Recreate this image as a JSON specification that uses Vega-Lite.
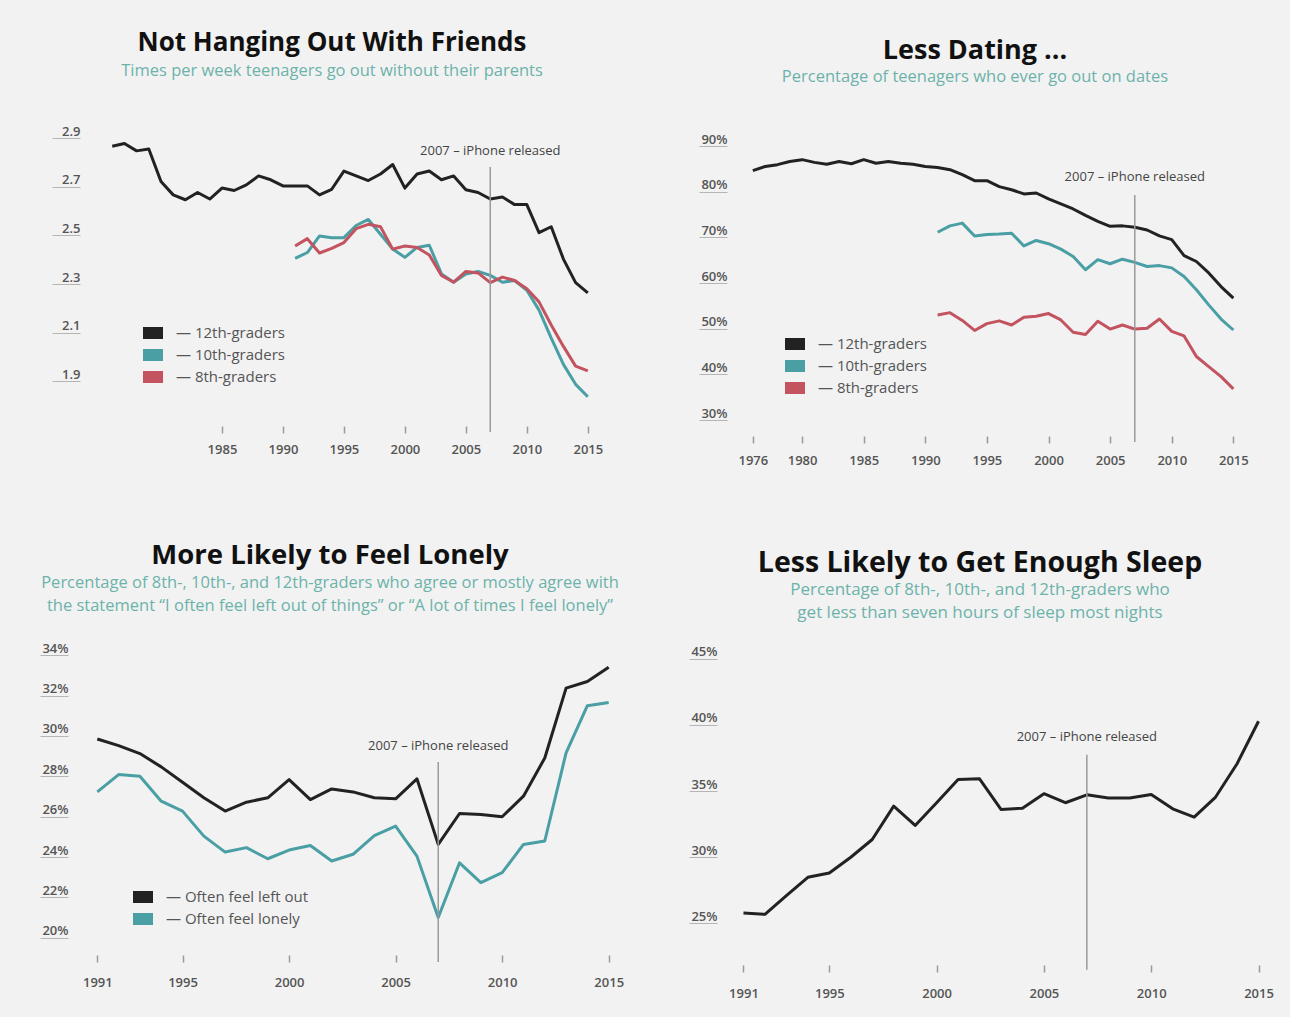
{
  "$schema": "https://vega.github.io/schema/vega-lite/v6.json",
  "background": "#f2f2f2",
  "padding": {"left": 39, "top": 29, "right": 10, "bottom": 17},
  "bounds": "flush",
  "columns": 2,
  "spacing": {"row": 203, "column": 92},
  "resolve": {"scale": {"x": "independent", "y": "independent", "color": "independent"}, "legend": {"color": "independent"}},
  "datasets": {
    "friends": [
      {"year":1976,"group":"12th-graders","value":2.838},{"year":1977,"group":"12th-graders","value":2.849},{"year":1978,"group":"12th-graders","value":2.819},{"year":1979,"group":"12th-graders","value":2.827},{"year":1980,"group":"12th-graders","value":2.693},{"year":1981,"group":"12th-graders","value":2.638},{"year":1982,"group":"12th-graders","value":2.618},{"year":1983,"group":"12th-graders","value":2.648},{"year":1984,"group":"12th-graders","value":2.621},{"year":1985,"group":"12th-graders","value":2.666},{"year":1986,"group":"12th-graders","value":2.656},{"year":1987,"group":"12th-graders","value":2.679},{"year":1988,"group":"12th-graders","value":2.716},{"year":1989,"group":"12th-graders","value":2.70},{"year":1990,"group":"12th-graders","value":2.675},{"year":1991,"group":"12th-graders","value":2.675},{"year":1992,"group":"12th-graders","value":2.675},{"year":1993,"group":"12th-graders","value":2.638},{"year":1994,"group":"12th-graders","value":2.661},{"year":1995,"group":"12th-graders","value":2.736},{"year":1996,"group":"12th-graders","value":2.716},{"year":1997,"group":"12th-graders","value":2.697},{"year":1998,"group":"12th-graders","value":2.724},{"year":1999,"group":"12th-graders","value":2.763},{"year":2000,"group":"12th-graders","value":2.666},{"year":2001,"group":"12th-graders","value":2.724},{"year":2002,"group":"12th-graders","value":2.736},{"year":2003,"group":"12th-graders","value":2.70},{"year":2004,"group":"12th-graders","value":2.716},{"year":2005,"group":"12th-graders","value":2.659},{"year":2006,"group":"12th-graders","value":2.648},{"year":2007,"group":"12th-graders","value":2.621},{"year":2008,"group":"12th-graders","value":2.629},{"year":2009,"group":"12th-graders","value":2.598},{"year":2010,"group":"12th-graders","value":2.598},{"year":2011,"group":"12th-graders","value":2.483},{"year":2012,"group":"12th-graders","value":2.507},{"year":2013,"group":"12th-graders","value":2.374},{"year":2014,"group":"12th-graders","value":2.277},{"year":2015,"group":"12th-graders","value":2.235},
      {"year":1991,"group":"10th-graders","value":2.377},{"year":1992,"group":"10th-graders","value":2.401},{"year":1993,"group":"10th-graders","value":2.469},{"year":1994,"group":"10th-graders","value":2.462},{"year":1995,"group":"10th-graders","value":2.462},{"year":1996,"group":"10th-graders","value":2.512},{"year":1997,"group":"10th-graders","value":2.537},{"year":1998,"group":"10th-graders","value":2.476},{"year":1999,"group":"10th-graders","value":2.415},{"year":2000,"group":"10th-graders","value":2.381},{"year":2001,"group":"10th-graders","value":2.422},{"year":2002,"group":"10th-graders","value":2.431},{"year":2003,"group":"10th-graders","value":2.313},{"year":2004,"group":"10th-graders","value":2.279},{"year":2005,"group":"10th-graders","value":2.313},{"year":2006,"group":"10th-graders","value":2.323},{"year":2007,"group":"10th-graders","value":2.307},{"year":2008,"group":"10th-graders","value":2.279},{"year":2009,"group":"10th-graders","value":2.286},{"year":2010,"group":"10th-graders","value":2.246},{"year":2011,"group":"10th-graders","value":2.164},{"year":2012,"group":"10th-graders","value":2.049},{"year":2013,"group":"10th-graders","value":1.941},{"year":2014,"group":"10th-graders","value":1.859},{"year":2015,"group":"10th-graders","value":1.808},
      {"year":1991,"group":"8th-graders","value":2.428},{"year":1992,"group":"8th-graders","value":2.458},{"year":1993,"group":"8th-graders","value":2.399},{"year":1994,"group":"8th-graders","value":2.418},{"year":1995,"group":"8th-graders","value":2.442},{"year":1996,"group":"8th-graders","value":2.499},{"year":1997,"group":"8th-graders","value":2.517},{"year":1998,"group":"8th-graders","value":2.507},{"year":1999,"group":"8th-graders","value":2.415},{"year":2000,"group":"8th-graders","value":2.428},{"year":2001,"group":"8th-graders","value":2.422},{"year":2002,"group":"8th-graders","value":2.391},{"year":2003,"group":"8th-graders","value":2.307},{"year":2004,"group":"8th-graders","value":2.279},{"year":2005,"group":"8th-graders","value":2.323},{"year":2006,"group":"8th-graders","value":2.317},{"year":2007,"group":"8th-graders","value":2.277},{"year":2008,"group":"8th-graders","value":2.30},{"year":2009,"group":"8th-graders","value":2.286},{"year":2010,"group":"8th-graders","value":2.252},{"year":2011,"group":"8th-graders","value":2.198},{"year":2012,"group":"8th-graders","value":2.103},{"year":2013,"group":"8th-graders","value":2.015},{"year":2014,"group":"8th-graders","value":1.934},{"year":2015,"group":"8th-graders","value":1.914}
    ],
    "dating": [
      {"year":1976,"group":"12th-graders","value":83.1},{"year":1977,"group":"12th-graders","value":84.0},{"year":1978,"group":"12th-graders","value":84.4},{"year":1979,"group":"12th-graders","value":85.1},{"year":1980,"group":"12th-graders","value":85.5},{"year":1981,"group":"12th-graders","value":84.9},{"year":1982,"group":"12th-graders","value":84.5},{"year":1983,"group":"12th-graders","value":85.1},{"year":1984,"group":"12th-graders","value":84.6},{"year":1985,"group":"12th-graders","value":85.5},{"year":1986,"group":"12th-graders","value":84.7},{"year":1987,"group":"12th-graders","value":85.1},{"year":1988,"group":"12th-graders","value":84.7},{"year":1989,"group":"12th-graders","value":84.5},{"year":1990,"group":"12th-graders","value":84.0},{"year":1991,"group":"12th-graders","value":83.8},{"year":1992,"group":"12th-graders","value":83.3},{"year":1993,"group":"12th-graders","value":82.2},{"year":1994,"group":"12th-graders","value":80.9},{"year":1995,"group":"12th-graders","value":80.9},{"year":1996,"group":"12th-graders","value":79.6},{"year":1997,"group":"12th-graders","value":78.9},{"year":1998,"group":"12th-graders","value":78.0},{"year":1999,"group":"12th-graders","value":78.2},{"year":2000,"group":"12th-graders","value":76.9},{"year":2001,"group":"12th-graders","value":75.8},{"year":2002,"group":"12th-graders","value":74.7},{"year":2003,"group":"12th-graders","value":73.3},{"year":2004,"group":"12th-graders","value":72.0},{"year":2005,"group":"12th-graders","value":70.9},{"year":2006,"group":"12th-graders","value":71.0},{"year":2007,"group":"12th-graders","value":70.7},{"year":2008,"group":"12th-graders","value":70.1},{"year":2009,"group":"12th-graders","value":68.8},{"year":2010,"group":"12th-graders","value":68.0},{"year":2011,"group":"12th-graders","value":64.5},{"year":2012,"group":"12th-graders","value":63.2},{"year":2013,"group":"12th-graders","value":60.7},{"year":2014,"group":"12th-graders","value":57.7},{"year":2015,"group":"12th-graders","value":55.2},
      {"year":1991,"group":"10th-graders","value":69.6},{"year":1992,"group":"10th-graders","value":71.0},{"year":1993,"group":"10th-graders","value":71.6},{"year":1994,"group":"10th-graders","value":68.8},{"year":1995,"group":"10th-graders","value":69.1},{"year":1996,"group":"10th-graders","value":69.2},{"year":1997,"group":"10th-graders","value":69.4},{"year":1998,"group":"10th-graders","value":66.6},{"year":1999,"group":"10th-graders","value":67.8},{"year":2000,"group":"10th-graders","value":67.1},{"year":2001,"group":"10th-graders","value":65.9},{"year":2002,"group":"10th-graders","value":64.3},{"year":2003,"group":"10th-graders","value":61.4},{"year":2004,"group":"10th-graders","value":63.6},{"year":2005,"group":"10th-graders","value":62.7},{"year":2006,"group":"10th-graders","value":63.7},{"year":2007,"group":"10th-graders","value":63.0},{"year":2008,"group":"10th-graders","value":62.1},{"year":2009,"group":"10th-graders","value":62.3},{"year":2010,"group":"10th-graders","value":61.8},{"year":2011,"group":"10th-graders","value":59.9},{"year":2012,"group":"10th-graders","value":57.0},{"year":2013,"group":"10th-graders","value":53.7},{"year":2014,"group":"10th-graders","value":50.6},{"year":2015,"group":"10th-graders","value":48.2},
      {"year":1991,"group":"8th-graders","value":51.5},{"year":1992,"group":"8th-graders","value":52.0},{"year":1993,"group":"8th-graders","value":50.3},{"year":1994,"group":"8th-graders","value":48.1},{"year":1995,"group":"8th-graders","value":49.6},{"year":1996,"group":"8th-graders","value":50.2},{"year":1997,"group":"8th-graders","value":49.3},{"year":1998,"group":"8th-graders","value":51.0},{"year":1999,"group":"8th-graders","value":51.2},{"year":2000,"group":"8th-graders","value":51.8},{"year":2001,"group":"8th-graders","value":50.4},{"year":2002,"group":"8th-graders","value":47.7},{"year":2003,"group":"8th-graders","value":47.2},{"year":2004,"group":"8th-graders","value":50.1},{"year":2005,"group":"8th-graders","value":48.4},{"year":2006,"group":"8th-graders","value":49.3},{"year":2007,"group":"8th-graders","value":48.4},{"year":2008,"group":"8th-graders","value":48.6},{"year":2009,"group":"8th-graders","value":50.6},{"year":2010,"group":"8th-graders","value":47.9},{"year":2011,"group":"8th-graders","value":46.9},{"year":2012,"group":"8th-graders","value":42.4},{"year":2013,"group":"8th-graders","value":40.2},{"year":2014,"group":"8th-graders","value":38.0},{"year":2015,"group":"8th-graders","value":35.3}
    ],
    "lonely": [
      {"year":1991,"group":"Often feel left out","value":29.5},{"year":1992,"group":"Often feel left out","value":29.17},{"year":1993,"group":"Often feel left out","value":28.78},{"year":1994,"group":"Often feel left out","value":28.12},{"year":1995,"group":"Often feel left out","value":27.36},{"year":1996,"group":"Often feel left out","value":26.59},{"year":1997,"group":"Often feel left out","value":25.93},{"year":1998,"group":"Often feel left out","value":26.37},{"year":1999,"group":"Often feel left out","value":26.59},{"year":2000,"group":"Often feel left out","value":27.49},{"year":2001,"group":"Often feel left out","value":26.5},{"year":2002,"group":"Often feel left out","value":27.03},{"year":2003,"group":"Often feel left out","value":26.88},{"year":2004,"group":"Often feel left out","value":26.59},{"year":2005,"group":"Often feel left out","value":26.54},{"year":2006,"group":"Often feel left out","value":27.53},{"year":2007,"group":"Often feel left out","value":24.28},{"year":2008,"group":"Often feel left out","value":25.81},{"year":2009,"group":"Often feel left out","value":25.76},{"year":2010,"group":"Often feel left out","value":25.65},{"year":2011,"group":"Often feel left out","value":26.67},{"year":2012,"group":"Often feel left out","value":28.56},{"year":2013,"group":"Often feel left out","value":32.02},{"year":2014,"group":"Often feel left out","value":32.35},{"year":2015,"group":"Often feel left out","value":33.06},
      {"year":1991,"group":"Often feel lonely","value":26.88},{"year":1992,"group":"Often feel lonely","value":27.74},{"year":1993,"group":"Often feel lonely","value":27.66},{"year":1994,"group":"Often feel lonely","value":26.42},{"year":1995,"group":"Often feel lonely","value":25.93},{"year":1996,"group":"Often feel lonely","value":24.69},{"year":1997,"group":"Often feel lonely","value":23.9},{"year":1998,"group":"Often feel lonely","value":24.12},{"year":1999,"group":"Often feel lonely","value":23.57},{"year":2000,"group":"Often feel lonely","value":24.0},{"year":2001,"group":"Often feel lonely","value":24.23},{"year":2002,"group":"Often feel lonely","value":23.46},{"year":2003,"group":"Often feel lonely","value":23.79},{"year":2004,"group":"Often feel lonely","value":24.72},{"year":2005,"group":"Often feel lonely","value":25.19},{"year":2006,"group":"Often feel lonely","value":23.7},{"year":2007,"group":"Often feel lonely","value":20.66},{"year":2008,"group":"Often feel lonely","value":23.37},{"year":2009,"group":"Often feel lonely","value":22.39},{"year":2010,"group":"Often feel lonely","value":22.88},{"year":2011,"group":"Often feel lonely","value":24.28},{"year":2012,"group":"Often feel lonely","value":24.45},{"year":2013,"group":"Often feel lonely","value":28.81},{"year":2014,"group":"Often feel lonely","value":31.15},{"year":2015,"group":"Often feel lonely","value":31.31}
    ],
    "sleep": [
      {"year":1991,"value":25.25},{"year":1992,"value":25.15},{"year":1993,"value":26.57},{"year":1994,"value":27.95},{"year":1995,"value":28.28},{"year":1996,"value":29.47},{"year":1997,"value":30.81},{"year":1998,"value":33.33},{"year":1999,"value":31.87},{"year":2000,"value":33.59},{"year":2001,"value":35.35},{"year":2002,"value":35.4},{"year":2003,"value":33.08},{"year":2004,"value":33.18},{"year":2005,"value":34.27},{"year":2006,"value":33.59},{"year":2007,"value":34.19},{"year":2008,"value":33.94},{"year":2009,"value":33.94},{"year":2010,"value":34.22},{"year":2011,"value":33.13},{"year":2012,"value":32.5},{"year":2013,"value":34.02},{"year":2014,"value":36.54},{"year":2015,"value":39.75}
    ]
  },
  "concat": [
    {
      "width": 524, "height": 304,
      "title": {"text": "Not Hanging Out With Friends", "subtitle": "Times per week teenagers go out without their parents", "offset": 40, "dx": -6, "fontSize": 26, "subtitleFontSize": 16.5, "subtitlePadding": 7},
      "layer": [
        {
          "data": {"name": "friends"},
          "mark": {"type": "line", "strokeWidth": 3, "strokeJoin": "round"},
          "encoding": {
            "x": {"field": "year", "type": "quantitative", "scale": {"domain": [1973.03, 2016], "nice": false, "zero": false}, "axis": {"title": null, "values": [1985, 1990, 1995, 2000, 2005, 2010, 2015], "format": "d", "offset": 3, "labelPadding": 10}},
            "y": {"field": "value", "type": "quantitative", "scale": {"domain": [1.7, 2.95], "nice": false, "zero": false}, "axis": {"title": null, "values": [1.9, 2.1, 2.3, 2.5, 2.7, 2.9], "format": ".1f", "offset": -4}},
            "color": {"field": "group", "type": "nominal", "scale": {"domain": ["12th-graders", "10th-graders", "8th-graders"], "range": ["#222222", "#4a9fa5", "#c2535f"]}, "legend": {"title": null, "legendX": 61, "legendY": 204, "labelExpr": "'— ' + datum.label"}}
          }
        },
        {
          "data": {"values": [{"year": 2007, "value": 2.753, "value2": 1.663}]},
          "mark": {"type": "rule", "color": "#9a9a9a", "strokeWidth": 1.5},
          "encoding": {"x": {"field": "year", "type": "quantitative"}, "y": {"field": "value", "type": "quantitative"}, "y2": {"field": "value2"}}
        },
        {
          "data": {"values": [{"year": 2007, "value": 2.818, "label": "2007 – iPhone released"}]},
          "mark": {"type": "text", "font": "Open Sans", "fontSize": 13, "color": "#444", "align": "center", "baseline": "middle"},
          "encoding": {"x": {"field": "year", "type": "quantitative"}, "y": {"field": "value", "type": "quantitative"}, "text": {"field": "label"}}
        }
      ]
    },
    {
      "width": 536, "height": 306,
      "title": {"text": "Less Dating ...", "subtitle": "Percentage of teenagers who ever go out on dates", "offset": 33, "dx": -15, "fontSize": 27, "subtitleFontSize": 16.5},
      "layer": [
        {
          "data": {"name": "dating"},
          "mark": {"type": "line", "strokeWidth": 3, "strokeJoin": "round"},
          "encoding": {
            "x": {"field": "year", "type": "quantitative", "scale": {"domain": [1973.5, 2017], "nice": false, "zero": false}, "axis": {"title": null, "values": [1976, 1980, 1985, 1990, 1995, 2000, 2005, 2010, 2015], "format": "d", "offset": 11, "labelPadding": 11}},
            "y": {"field": "value", "type": "quantitative", "scale": {"domain": [27.4, 94.4], "nice": false, "zero": false}, "axis": {"title": null, "values": [30, 40, 50, 60, 70, 80, 90], "labelExpr": "datum.value + '%'", "offset": -5}},
            "color": {"field": "group", "type": "nominal", "scale": {"domain": ["12th-graders", "10th-graders", "8th-graders"], "range": ["#222222", "#4a9fa5", "#c2535f"]}, "legend": {"title": null, "legendX": 57, "legendY": 215, "labelExpr": "'— ' + datum.label"}}
          }
        },
        {
          "data": {"values": [{"year": 2007, "value": 77.76, "value2": 23.67}]},
          "mark": {"type": "rule", "color": "#9a9a9a", "strokeWidth": 1.5},
          "encoding": {"x": {"field": "year", "type": "quantitative"}, "y": {"field": "value", "type": "quantitative"}, "y2": {"field": "value2"}}
        },
        {
          "data": {"values": [{"year": 2007, "value": 81.7, "label": "2007 – iPhone released"}]},
          "mark": {"type": "text", "font": "Open Sans", "fontSize": 13, "color": "#444", "align": "center", "baseline": "middle"},
          "encoding": {"x": {"field": "year", "type": "quantitative"}, "y": {"field": "value", "type": "quantitative"}, "text": {"field": "label"}}
        }
      ]
    },
    {
      "width": 554, "height": 323,
      "title": {"text": "More Likely to Feel Lonely", "subtitle": ["Percentage of 8th-, 10th-, and 12th-graders who agree or mostly agree with", "the statement “I often feel left out of things” or “A lot of times I feel lonely”"], "offset": 14, "dx": -23, "fontSize": 27.5, "subtitleFontSize": 16.5, "subtitlePadding": 5},
      "layer": [
        {
          "data": {"name": "lonely"},
          "mark": {"type": "line", "strokeWidth": 3, "strokeJoin": "round"},
          "encoding": {
            "x": {"field": "year", "type": "quantitative", "scale": {"domain": [1990, 2016], "nice": false, "zero": false}, "axis": {"title": null, "values": [1991, 1995, 2000, 2005, 2010, 2015], "format": "d", "offset": 4, "labelPadding": 14}},
            "y": {"field": "value", "type": "quantitative", "scale": {"domain": [19, 35], "nice": false, "zero": false}, "axis": {"title": null, "values": [20, 22, 24, 26, 28, 30, 32, 34], "labelExpr": "datum.value + '%'", "offset": 8}},
            "color": {"field": "group", "type": "nominal", "scale": {"domain": ["Often feel left out", "Often feel lonely"], "range": ["#222222", "#4a9fa5"]}, "legend": {"title": null, "legendX": 51, "legendY": 259, "labelExpr": "'— ' + datum.label"}}
          }
        },
        {
          "data": {"values": [{"year": 2007, "value": 28.36, "value2": 18.46}]},
          "mark": {"type": "rule", "color": "#9a9a9a", "strokeWidth": 1.5},
          "encoding": {"x": {"field": "year", "type": "quantitative"}, "y": {"field": "value", "type": "quantitative"}, "y2": {"field": "value2"}}
        },
        {
          "data": {"values": [{"year": 2007, "value": 29.16, "label": "2007 – iPhone released"}]},
          "mark": {"type": "text", "font": "Open Sans", "fontSize": 13, "color": "#444", "align": "center", "baseline": "middle"},
          "encoding": {"x": {"field": "year", "type": "quantitative"}, "y": {"field": "value", "type": "quantitative"}, "text": {"field": "label"}}
        }
      ]
    },
    {
      "width": 558, "height": 332,
      "title": {"text": "Less Likely to Get Enough Sleep", "subtitle": ["Percentage of 8th-, 10th-, and 12th-graders who", "get less than seven hours of sleep most nights"], "offset": 7, "dx": -21, "fontSize": 28.5, "subtitleFontSize": 17, "subtitlePadding": 5},
      "layer": [
        {
          "data": {"name": "sleep"},
          "mark": {"type": "line", "strokeWidth": 3, "strokeJoin": "round", "color": "#222222"},
          "encoding": {
            "x": {"field": "year", "type": "quantitative", "scale": {"domain": [1990, 2016], "nice": false, "zero": false}, "axis": {"title": null, "values": [1991, 1995, 2000, 2005, 2010, 2015], "format": "d", "offset": 5, "labelPadding": 15}},
            "y": {"field": "value", "type": "quantitative", "scale": {"domain": [21.7, 46.8], "nice": false, "zero": false}, "axis": {"title": null, "values": [25, 30, 35, 40, 45], "labelExpr": "datum.value + '%'", "offset": 5}}
          }
        },
        {
          "data": {"values": [{"year": 2007, "value": 37.21, "value2": 20.97}]},
          "mark": {"type": "rule", "color": "#9a9a9a", "strokeWidth": 1.5},
          "encoding": {"x": {"field": "year", "type": "quantitative"}, "y": {"field": "value", "type": "quantitative"}, "y2": {"field": "value2"}}
        },
        {
          "data": {"values": [{"year": 2007, "value": 38.57, "label": "2007 – iPhone released"}]},
          "mark": {"type": "text", "font": "Open Sans", "fontSize": 13, "color": "#444", "align": "center", "baseline": "middle"},
          "encoding": {"x": {"field": "year", "type": "quantitative"}, "y": {"field": "value", "type": "quantitative"}, "text": {"field": "label"}}
        }
      ]
    }
  ],
  "config": {
    "view": {"stroke": null},
    "title": {"font": "Open Sans", "fontSize": 26, "fontWeight": 700, "color": "#111111", "anchor": "middle", "frame": "group", "subtitleFont": "Open Sans", "subtitleFontSize": 16.5, "subtitleColor": "#6db2aa", "subtitlePadding": 4, "subtitleLineHeight": 23},
    "axisX": {"domain": false, "grid": false, "tickSize": 7, "tickColor": "#9a9a9a", "tickWidth": 1.5, "labelFont": "Open Sans", "labelFontSize": 13, "labelFontWeight": 600, "labelColor": "#555555"},
    "axisY": {"domain": false, "grid": false, "tickSize": 28, "tickColor": "#b5b5b5", "tickWidth": 1, "tickOffset": 7, "labelOffset": -7, "labelPadding": -28, "labelAlign": "right", "labelBaseline": "middle", "labelFont": "Open Sans", "labelFontSize": 13, "labelFontWeight": 600, "labelColor": "#555555"},
    "legend": {"orient": "none", "symbolType": "M-1,0H1", "symbolSize": 400, "symbolStrokeWidth": 12, "clipHeight": 20, "labelFont": "Open Sans", "labelFontSize": 15, "labelColor": "#555555", "rowPadding": 2, "labelOffset": 7}
  }
}
